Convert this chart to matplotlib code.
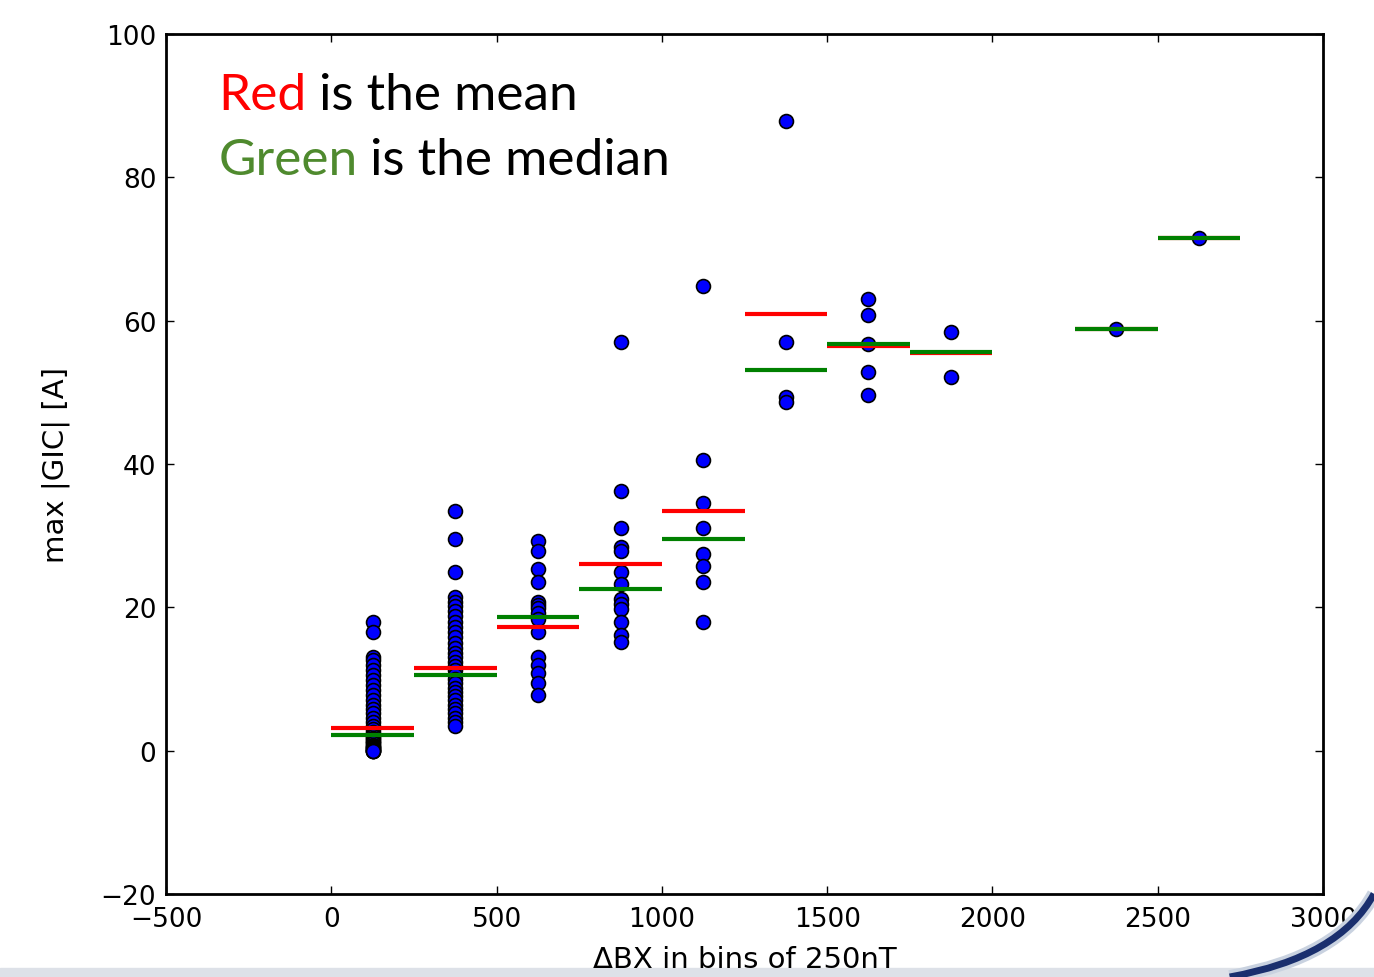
import numpy as np
import matplotlib.pyplot as plt
from matplotlib.path import Path
from matplotlib.patches import PathPatch, Rectangle

# bins of 250 nT in delta BX, left edges
bin_left = [0, 250, 500, 750, 1000, 1250, 1500, 1750, 2250, 2500]

gic_0 = [17.9, 16.6, 13.1, 12.6, 12.0, 11.3, 10.6, 9.9, 9.2, 8.5, 7.8, 7.1, 6.4,
         5.8, 5.2, 4.6, 4.0, 3.5, 3.0, 2.6, 2.3, 2.2, 2.0, 1.8, 1.6, 1.4, 1.2,
         1.0, 0.8, 0.6, 0.5, 0.4, 0.3, 0.2, 0.1, 0.0, 0.0, 0.0, 0.0]
gic_1 = [33.5, 29.5, 24.9, 21.4, 20.8, 20.2, 19.5, 18.8, 18.0, 17.2, 16.5, 15.8,
         15.0, 14.3, 13.6, 13.0, 12.4, 11.8, 11.2, 10.6, 10.0, 9.4, 8.8, 8.2,
         7.6, 7.0, 6.4, 5.8, 5.2, 4.6, 4.0, 3.5]
gic_2 = [29.2, 27.9, 25.4, 23.5, 20.8, 20.3, 19.9, 19.2, 18.3, 16.5, 13.1, 12.0,
         10.9, 9.5, 7.7]
gic_3 = [57.0, 36.2, 31.0, 28.4, 27.8, 24.9, 23.3, 21.2, 20.4, 19.7, 17.9, 16.2, 15.1]
gic_4 = [64.8, 40.5, 34.6, 31.1, 27.4, 25.8, 23.5, 18.0]
gic_5 = [87.9, 57.0, 49.4, 48.6]
gic_6 = [63.0, 60.8, 56.7, 52.9, 49.6]
gic_7 = [58.4, 52.2]
gic_8 = [58.8]
gic_9 = [71.5]
gic_bins = [gic_0, gic_1, gic_2, gic_3, gic_4, gic_5, gic_6, gic_7, gic_8, gic_9]

gic_mean = [3.2, 11.6, 17.2, 26.0, 33.5, 60.9, 56.4, 55.5, 58.8, 71.5]
gic_median = [2.2, 10.6, 18.7, 22.6, 29.5, 53.1, 56.8, 55.6, 58.8, 71.5]

bin_width = 250

fig = plt.figure(figsize=(13.74, 9.78), dpi=100)
ax = fig.add_axes([0.1208, 0.0849, 0.8421, 0.8793])

for left, vals in zip(bin_left, gic_bins):
    ax.plot([left + bin_width / 2.] * len(vals), vals, 'o', color='b',
            markeredgecolor='k', markeredgewidth=1.2, markersize=10, zorder=2)

lefts = np.array(bin_left)
ax.hlines(gic_mean, lefts, lefts + bin_width, colors='r', lw=3, zorder=3)
ax.hlines(gic_median, lefts, lefts + bin_width, colors='g', lw=3, zorder=4)

ax.set_xlim(-500, 3000)
ax.set_ylim(-20, 100)
ax.set_xticks(np.arange(-500, 3001, 500))
ax.set_yticks(np.arange(-20, 101, 20))
ax.tick_params(direction='in', top=True, right=True, length=6, width=1,
               labelsize=19, colors='k')
ax.tick_params(axis='x', pad=9)
ax.tick_params(axis='y', pad=7)
for s in ax.spines.values():
    s.set_linewidth(2)
ax.set_xlabel(u'\u0394BX in bins of 250nT', fontsize=21, labelpad=9)
ax.set_ylabel('max |GIC| [A]', fontsize=21, labelpad=22)

# coloured annotation
t1 = ax.text(-342, 89.5, 'Red', color='#ff0000', fontsize=37, family='Lato',
             va='baseline')
ax.annotate(' is the mean', xy=(1, 0), xycoords=t1, va='bottom', fontsize=37,
            family='Lato', color='k')
t2 = ax.text(-342, 80.4, 'Green', color='#4f8a2e', fontsize=37, family='Lato',
             va='baseline')
ax.annotate(' is the median', xy=(1, 0), xycoords=t2, va='bottom', fontsize=37,
            family='Lato', color='k')

# slide decoration at the bottom
fig.patches.append(Rectangle((0, 0), 1, 0.009, transform=fig.transFigure,
                             color='#dde1e8', zorder=-1))
swoosh = Path([(0.895, 0.0), (0.975, 0.02), (1.0, 0.085)],
              [Path.MOVETO, Path.CURVE3, Path.CURVE3])
fig.patches.append(PathPatch(swoosh, transform=fig.transFigure, fill=False,
                             lw=10, edgecolor='#c9d2e0', zorder=1))
fig.patches.append(PathPatch(swoosh, transform=fig.transFigure, fill=False,
                             lw=5, edgecolor='#1a2f6e', zorder=2))

fig.savefig('out.png', dpi=100)
